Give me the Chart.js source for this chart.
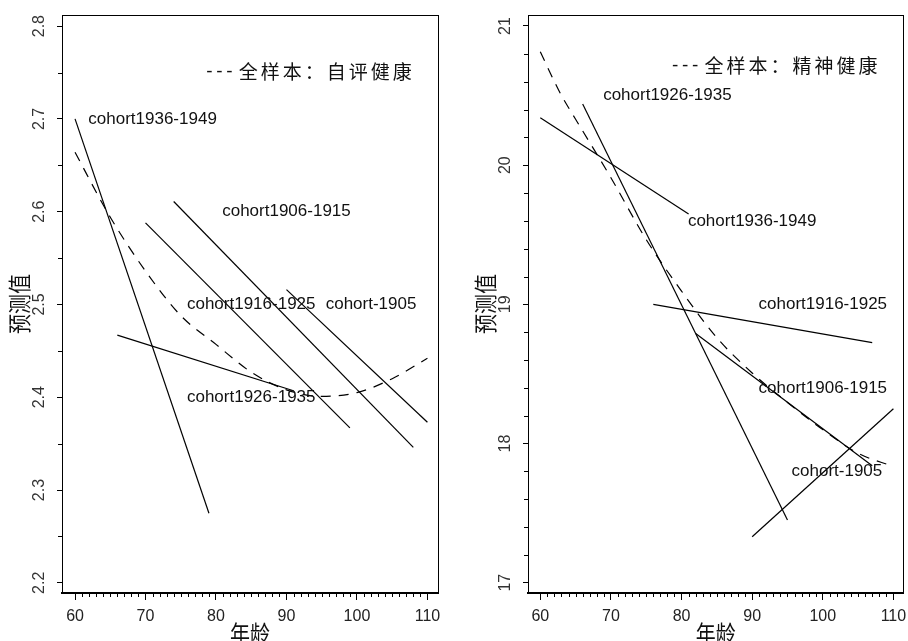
<!DOCTYPE html>
<html>
<head>
<meta charset="utf-8">
<script src="https://cdn.jsdelivr.net/npm/chart.js@4.4.0/dist/chart.umd.min.js"></script>
<style>
  html, body { margin: 0; padding: 0; background: #fff; }
  #wrap { position: relative; width: 908px; height: 641px; overflow: hidden; }
  canvas { position: absolute; top: 0; }
</style>
</head>
<body>
<div id="wrap">
  <canvas id="srh" width="454" height="641" style="left:0"></canvas>
  <canvas id="mh" width="454" height="641" style="left:454px"></canvas>
</div>
<script>
// ticks
const xTicks = [60, 70, 80, 90, 100, 110];
const srhTicks = [2.2, 2.3, 2.4, 2.5, 2.6, 2.7, 2.8];
const mhTicks = [17, 18, 19, 20, 21];

const cohorts = ['cohort1936-1949', 'cohort1926-1935', 'cohort1916-1925', 'cohort1906-1915', 'cohort-1905'];

// 自评健康
const srhFullAges = [60, 65, 70, 75, 80, 85, 90, 95, 100, 105, 110];
const srhFullValues = [2.664, 2.594, 2.536, 2.488, 2.457, 2.427, 2.408, 2.401, 2.405, 2.420, 2.442];
const srhCohortAges = [[60, 79], [66, 91], [70, 99], [74, 108], [90, 110]];
const srhCohortValues = [[2.700, 2.275], [2.467, 2.407], [2.588, 2.367], [2.611, 2.346], [2.516, 2.373]];
const srhLegend = '全样本：自评健康';

// 精神健康
const mhFullAges = [60, 62, 63, 65, 70, 75, 80, 85, 90, 95, 100, 105, 110];
const mhFullValues = [20.815, 20.60, 20.50, 20.33, 19.91, 19.465, 19.095, 18.76, 18.507, 18.295, 18.10, 17.93, 17.835];
const mhCohortAges = [[60, 81], [66, 95], [76, 107], [82, 107], [90, 110]];
const mhCohortValues = [[20.34, 19.65], [20.44, 17.45], [19.00, 18.725], [18.79, 17.84], [17.33, 18.25]];
const mhLegend = '全样本：精神健康';

// where the text labels sit, in data units
const srhLabelAt = [[71, 2.70], [85, 2.40], [85, 2.50], [90, 2.60], [102, 2.50]];
const mhLabelAt = [[90, 19.6], [78, 20.5], [100, 19.0], [100, 18.4], [102, 17.8]];

const LATIN = '"Liberation Sans", Arial, sans-serif';
const CJK = '"Noto Sans CJK SC", "Noto Sans", sans-serif';

// R-style extras: box, minor ticks, rotated y labels, titles, text labels
const rDecor = {
  id: 'rDecor',
  afterDraw(chart, args, o) {
    const ctx = chart.ctx, a = chart.chartArea;
    const xs = chart.scales.x, ys = chart.scales.y;
    ctx.save();
    ctx.strokeStyle = '#000';
    ctx.lineWidth = 1;
    ctx.strokeRect(Math.round(a.left) + 0.5, Math.round(a.top) + 0.5,
      Math.round(a.right - a.left), Math.round(a.bottom - a.top));

    ctx.beginPath();
    for (let v = xTicks[0]; v <= xTicks[xTicks.length - 1]; v++) {
      if (v % 10 === 0) continue;
      const p = Math.round(xs.getPixelForValue(v)) + 0.5;
      ctx.moveTo(p, a.bottom);
      ctx.lineTo(p, a.bottom + 4);
    }
    const t = o.yTicks;
    for (let i = 0; i < t.length - 1; i++) {
      const step = (t[i + 1] - t[i]) / o.yMinorPer;
      for (let k = 1; k < o.yMinorPer; k++) {
        const p = Math.round(ys.getPixelForValue(t[i] + k * step)) + 0.5;
        ctx.moveTo(a.left - 4, p);
        ctx.lineTo(a.left, p);
      }
    }
    ctx.stroke();

    // y tick labels, rotated like R
    ctx.fillStyle = '#333';
    ctx.font = '16px ' + LATIN;
    ctx.textAlign = 'center';
    ctx.textBaseline = 'middle';
    t.forEach(v => {
      ctx.save();
      ctx.translate(a.left - 22, ys.getPixelForValue(v));
      ctx.rotate(-Math.PI / 2);
      ctx.fillText(o.yFmt(v), 0, 0);
      ctx.restore();
    });

    // axis titles
    ctx.fillStyle = '#111';
    ctx.font = '20px ' + CJK;
    ctx.save();
    ctx.translate(a.left - 43, (a.top + a.bottom) / 2);
    ctx.rotate(-Math.PI / 2);
    ctx.scale(1, 1.15);
    ctx.fillText('预测值', 0, 0);
    ctx.restore();
    ctx.save();
    ctx.translate((a.left + a.right) / 2, a.bottom + 40);
    ctx.scale(1, 1.15);
    ctx.fillText('年龄', 0, 0);
    ctx.restore();

    // cohort labels
    ctx.fillStyle = '#111';
    ctx.font = '17px ' + LATIN;
    o.labels.forEach((txt, i) => {
      const [lx, ly] = o.labelAt[i];
      ctx.fillText(txt, xs.getPixelForValue(lx), ys.getPixelForValue(ly));
    });

    // legend text "- - - 全样本：..."
    const cx = xs.getPixelForValue(o.legendAt[0]);
    const cy = ys.getPixelForValue(o.legendAt[1]);
    ctx.font = '19px ' + LATIN;
    [-99, -89, -79].forEach(dx => ctx.fillText('-', cx + dx, cy));
    ctx.font = '19px ' + CJK;
    [...o.legend].forEach((ch, i) => ctx.fillText(ch, cx - 60 + i * 22, cy));
    ctx.restore();
  }
};

function buildDatasets(fullAges, fullValues, cAges, cValues) {
  const ds = cAges.map((ages, i) => ({
    label: cohorts[i],
    data: ages.map((x, j) => ({ x, y: cValues[i][j] })),
    showLine: true,
    borderColor: '#000',
    borderWidth: 1.2,
    pointRadius: 0,
    tension: 0
  }));
  ds.push({
    label: 'full',
    data: fullAges.map((x, j) => ({ x, y: fullValues[j] })),
    showLine: true,
    borderColor: '#000',
    borderWidth: 1.2,
    borderDash: [10, 8],
    pointRadius: 0,
    cubicInterpolationMode: 'monotone'
  });
  return ds;
}

function makeChart(id, cfg) {
  return new Chart(document.getElementById(id), {
    type: 'scatter',
    data: { datasets: cfg.datasets },
    options: {
      responsive: false,
      animation: false,
      layout: { padding: { left: 0, right: cfg.padRight, top: 15, bottom: 0 } },
      plugins: {
        legend: { display: false },
        tooltip: { enabled: false },
        rDecor: cfg.decor
      },
      scales: {
        x: {
          type: 'linear',
          min: cfg.xMin,
          max: cfg.xMax,
          afterBuildTicks: s => { s.ticks = xTicks.map(v => ({ value: v })); },
          afterFit: s => { s.height = 48; s.paddingLeft = 0; s.paddingRight = 0; },
          grid: { drawOnChartArea: false, drawTicks: true, tickLength: 7, color: '#000', tickColor: '#000' },
          border: { display: true, color: '#000', width: 2 },
          ticks: { color: '#222', font: { family: 'Liberation Sans', size: 16 }, padding: 7, maxRotation: 0, autoSkip: false }
        },
        y: {
          type: 'linear',
          min: cfg.yMin,
          max: cfg.yMax,
          afterBuildTicks: s => { s.ticks = cfg.decor.yTicks.map(v => ({ value: v })); },
          afterFit: s => { s.width = cfg.yWidth; s.paddingTop = 0; s.paddingBottom = 0; },
          grid: { drawOnChartArea: false, drawTicks: true, tickLength: 5, color: '#000', tickColor: '#000' },
          border: { display: true, color: '#000', width: 1 },
          ticks: { display: false }
        }
      }
    },
    plugins: [rDecor]
  });
}

makeChart('srh', {
  datasets: buildDatasets(srhFullAges, srhFullValues, srhCohortAges, srhCohortValues),
  padRight: 16, yWidth: 62,
  xMin: 58.15, xMax: 111.5, yMin: 2.189, yMax: 2.812,
  decor: {
    yTicks: srhTicks, yMinorPer: 2, yFmt: v => v.toFixed(1),
    labels: cohorts, labelAt: srhLabelAt,
    legend: srhLegend, legendAt: [93.1, 2.751]
  }
});

makeChart('mh', {
  datasets: buildDatasets(mhFullAges, mhFullValues, mhCohortAges, mhCohortValues),
  padRight: 4.7, yWidth: 74,
  xMin: 58.26, xMax: 111.4, yMin: 16.926, yMax: 21.079,
  decor: {
    yTicks: mhTicks, yMinorPer: 5, yFmt: v => String(v),
    labels: cohorts, labelAt: mhLabelAt,
    legend: mhLegend, legendAt: [93.1, 20.713]
  }
});
</script>
</body>
</html>
